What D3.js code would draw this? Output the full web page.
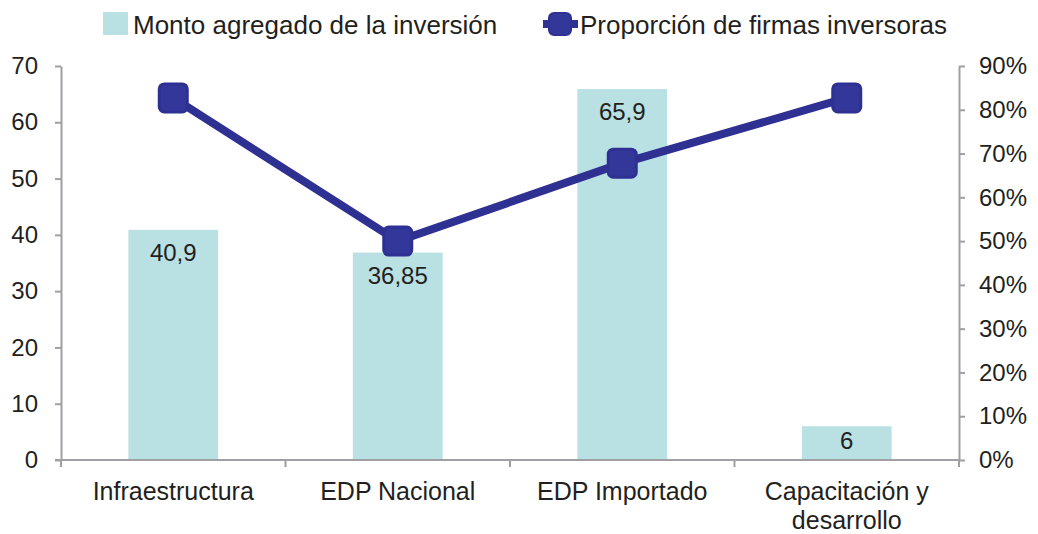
<!DOCTYPE html>
<html>
<head>
<meta charset="utf-8">
<script src="https://cdn.jsdelivr.net/npm/d3@7"></script>
<style>
  body { margin: 0; background: #fff; }
  text { font-family: "Liberation Sans", Arial, sans-serif; fill: #231f20; }
</style>
</head>
<body>
<div id="chart"></div>
<script>
// Chart data
const categories = ["Infraestructura", "EDP Nacional", "EDP Importado", "Capacitación y desarrollo"];
const montoValues = [40.9, 36.85, 65.9, 6];
const montoLabels = ["40,9", "36,85", "65,9", "6"];
const proporcionValues = [0.827, 0.50, 0.678, 0.827];
const leftTicks = [0, 10, 20, 30, 40, 50, 60, 70];
const rightTicks = [0, 0.1, 0.2, 0.3, 0.4, 0.5, 0.6, 0.7, 0.8, 0.9];
const seriesNames = ["Monto agregado de la inversión", "Proporción de firmas inversoras"];

const width = 1038, height = 534;
const margin = { top: 66, right: 79, bottom: 74, left: 61 };
const innerW = width - margin.left - margin.right;
const innerH = height - margin.top - margin.bottom;

const barColor = "#b9e0e3";
const lineColor = "#2e3192";
const axisColor = "#a0a0a4";

const svg = d3.select("#chart")
    .append("svg")
    .attr("width", width)
    .attr("height", height);

const g = svg.append("g")
    .attr("transform", `translate(${margin.left},${margin.top})`);

// Scales
const x = d3.scaleBand()
    .domain(categories)
    .range([0, innerW])
    .paddingInner(0.6)
    .paddingOuter(0.3);

const yLeft = d3.scaleLinear().domain([0, 70]).range([innerH, 0]);
const yRight = d3.scaleLinear().domain([0, 0.9]).range([innerH, 0]);

// Bars
g.selectAll(".bar")
    .data(categories)
    .enter().append("rect")
    .attr("class", "bar")
    .attr("x", d => x(d))
    .attr("y", (d, i) => yLeft(montoValues[i]))
    .attr("width", x.bandwidth())
    .attr("height", (d, i) => innerH - yLeft(montoValues[i]))
    .attr("fill", barColor);

// Left axis
const leftAxis = g.append("g")
    .call(d3.axisLeft(yLeft).tickValues(leftTicks).tickSize(6).tickSizeOuter(0).tickPadding(17));
leftAxis.selectAll("text").style("font-size", "24px").style("fill", "#231f20");

// Right axis
const rightAxis = g.append("g")
    .attr("transform", `translate(${innerW},0)`)
    .call(d3.axisRight(yRight).tickValues(rightTicks).tickFormat(d3.format(".0%")).tickSize(6).tickSizeOuter(0).tickPadding(14));
rightAxis.selectAll("text").style("font-size", "24px").style("fill", "#231f20");

[leftAxis, rightAxis].forEach(a => {
    a.selectAll("path, line").attr("stroke", axisColor).attr("stroke-width", 2);
});

// Bottom axis: line, boundary ticks and category labels
const boundaries = d3.range(categories.length + 1).map(i => i * x.step());
const bottom = g.append("g").attr("transform", `translate(0,${innerH})`);
bottom.append("line")
    .attr("x1", -6).attr("x2", innerW)
    .attr("stroke", axisColor).attr("stroke-width", 2);
bottom.selectAll(".btick")
    .data(boundaries)
    .enter().append("line")
    .attr("x1", d => d).attr("x2", d => d)
    .attr("y1", 0).attr("y2", 7)
    .attr("stroke", axisColor).attr("stroke-width", 2);

const labelText = bottom.selectAll(".xlabel")
    .data(categories)
    .enter().append("text")
    .attr("class", "xlabel")
    .attr("text-anchor", "middle")
    .attr("x", d => x(d) + x.bandwidth() / 2)
    .attr("y", 40)
    .style("font-size", "25px");
labelText.each(function(d) {
    const t = d3.select(this);
    const parts = d.startsWith("Capacitación") ? ["Capacitación y", "desarrollo"] : [d];
    parts.forEach((p, i) => {
        t.append("tspan")
            .attr("x", x(d) + x.bandwidth() / 2)
            .attr("dy", i === 0 ? 0 : 29)
            .text(p);
    });
});

// Line series
const line = d3.line()
    .x((d, i) => x(categories[i]) + x.bandwidth() / 2)
    .y(d => yRight(d));

g.append("path")
    .datum(proporcionValues)
    .attr("fill", "none")
    .attr("stroke", lineColor)
    .attr("stroke-width", 8)
    .attr("d", line);

const markerSize = 28;
g.selectAll(".marker")
    .data(proporcionValues)
    .enter().append("rect")
    .attr("class", "marker")
    .attr("x", (d, i) => x(categories[i]) + x.bandwidth() / 2 - markerSize / 2)
    .attr("y", d => yRight(d) - markerSize / 2)
    .attr("width", markerSize)
    .attr("height", markerSize)
    .attr("rx", 5)
    .attr("fill", "#34379a")
    .attr("stroke", lineColor)
    .attr("stroke-width", 3);

// Data labels inside the bars (kept above the baseline for short bars)
g.selectAll(".dlabel")
    .data(montoValues)
    .enter().append("text")
    .attr("class", "dlabel")
    .attr("text-anchor", "middle")
    .attr("x", (d, i) => x(categories[i]) + x.bandwidth() / 2)
    .attr("y", d => Math.min(yLeft(d) + 31, innerH - 11))
    .style("font-size", "24px")
    .text((d, i) => montoLabels[i]);

// Legend
const legend = svg.append("g").attr("class", "legend");
legend.append("rect")
    .attr("x", 103).attr("y", 12)
    .attr("width", 25).attr("height", 23)
    .attr("fill", barColor);
legend.append("text")
    .attr("x", 133).attr("y", 34)
    .style("font-size", "26px")
    .text(seriesNames[0]);

legend.append("line")
    .attr("x1", 543).attr("x2", 578)
    .attr("y1", 24).attr("y2", 24)
    .attr("stroke", lineColor).attr("stroke-width", 8);
legend.append("rect")
    .attr("x", 549).attr("y", 13)
    .attr("width", 22).attr("height", 22)
    .attr("rx", 5)
    .attr("fill", "#34379a")
    .attr("stroke", lineColor)
    .attr("stroke-width", 2);
legend.append("text")
    .attr("x", 580).attr("y", 34)
    .style("font-size", "26px")
    .text(seriesNames[1]);
</script>
</body>
</html>
